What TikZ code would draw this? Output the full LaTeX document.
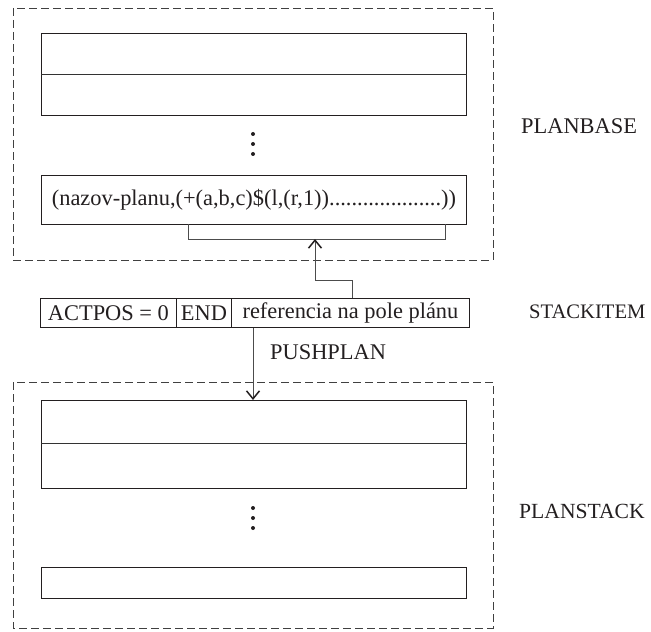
\documentclass[tikz,border=0pt]{standalone}
\usepackage{fontspec}
\setmainfont{Liberation Serif}
\usetikzlibrary{arrows.meta}
\definecolor{ink}{RGB}{35,31,32}
\begin{document}
\begin{tikzpicture}[x=1bp,y=-1bp,
  every node/.style={font=\fontsize{22.4bp}{25bp}\selectfont,text=ink},
  group/.style={draw=black!75,line width=0.9bp,dash pattern=on 8bp off 4bp},
  cell/.style={draw=ink,line width=0.9bp,inner sep=0pt,anchor=north west},
  conn/.style={draw=black!70,line width=0.9bp},
  arr/.style={conn,-{Straight Barb[length=8bp,width=13bp,line width=1.5bp,color=ink]}},
  dot/.style={fill=ink,circle,inner sep=0pt,minimum size=4bp},
  lab/.style={anchor=west,inner sep=0pt}]
\useasboundingbox (0,0) rectangle (651,632);
% PLANBASE group
\draw[group] (13,8) rectangle (493,260);
\node[cell,minimum width=425bp,minimum height=82bp] (pb1) at (41,33) {};
\draw[draw=black!80,line width=0.9bp] (pb1.west) -- (pb1.east);
\node[dot] (pbd1) at (253,134) {};
\node[dot] (pbd2) at (253,144) {};
\node[dot] (pbd3) at (253,154) {};
\node[cell,minimum width=425bp,minimum height=49bp] (row) at (41,175)
  {(nazov-planu,(+(a,b,c)\$(l,(r,1))....................))};
\coordinate (brl) at (188,224);
\coordinate (brr) at (445,224);
\coordinate (brm) at (315,239);
\draw[conn] (brl) |- (brr |- brm) -- (brr);
\node[lab] (planbase) at (521,126) {PLANBASE};
% STACKITEM
\node[cell,minimum width=136bp,minimum height=29bp] (sa) at (40,298) {ACTPOS = 0};
\node[cell,minimum width=55bp,minimum height=29bp] (sb) at (176,298) {END};
\node[cell,minimum width=238bp,minimum height=29bp] (sc) at (231,298) {referencia na pole plánu};
\node[lab,font=\fontsize{20.6bp}{24bp}\selectfont] (stackitem) at (529,312) {STACKITEM};
\coordinate (up1) at (352,280);
\draw[arr] (sc.north -| up1) -- (up1) -| (brm);
% PLANSTACK group
\draw[group] (13,382) rectangle (493,628);
\node[cell,minimum width=425bp,minimum height=88bp] (ps1) at (41,400) {};
\draw[draw=black!80,line width=0.9bp] (41,443) -- (466,443);
\node[dot] (psd1) at (253,508) {};
\node[dot] (psd2) at (253,518) {};
\node[dot] (psd3) at (253,528) {};
\node[cell,minimum width=425bp,minimum height=31bp] (ps2) at (41,567) {};
\node[lab,font=\fontsize{21.6bp}{24bp}\selectfont] (planstack) at (519,511) {PLANSTACK};
\draw[arr] (sc.south -| 253,0) -- (ps1.north -| 253,0);
\node[lab] (push) at (270,352) {PUSHPLAN};
\end{tikzpicture}
\end{document}
